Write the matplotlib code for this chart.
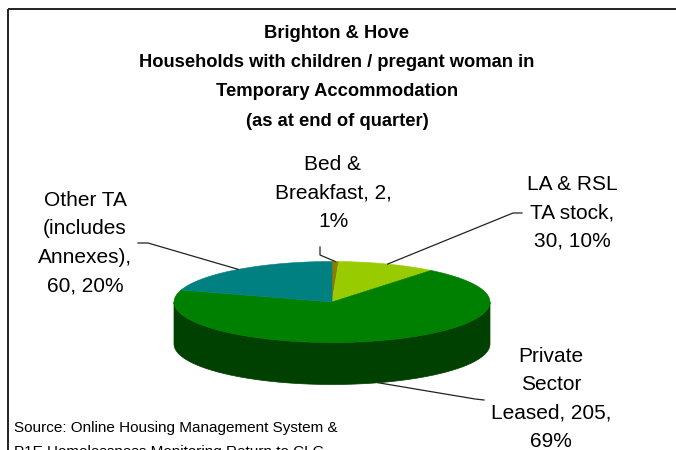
import textwrap
import numpy as np
import matplotlib.pyplot as plt
from matplotlib.patches import Polygon, Rectangle

plt.rcParams['font.family'] = ['Liberation Sans', 'DejaVu Sans']

# data
categories = ['Bed & Breakfast', 'LA & RSL TA stock', 'Private Sector Leased',
              'Other TA (includes Annexes)']
values = [2, 30, 205, 60]
wrap_widths = [13, 9, 12, 10]
colors = ['#8a7d00', '#99cc00', '#008000', '#008080']
side_colors = ['#453e00', '#4c6600', '#004000', '#004040']

title_lines = ['Brighton & Hove',
               'Households with children / pregant woman in',
               'Temporary Accommodation',
               '(as at end of quarter)']
source_lines = ['Source: Online Housing Management System &',
                'P1E Homelessness Monitoring Return to CLG']

# layout (pixel coordinates, y down)
CX, CY = 332, 302
RX, RY = 158, 40.5
DEPTH = 42
label_xy = [(333, 193), (572, 213), (551, 399), (85, 243)]
leader_start = [(320, 247), (522, 213), (484, 400), (138, 243)]
leader_elbow = [(320, 255), (513, 213), (475, 399), (148, 243)]

fig = plt.figure(figsize=(6.76, 4.5), dpi=100)
ax = fig.add_axes([0, 0, 1, 1])
ax.set_xlim(0, 676)
ax.set_ylim(450, 0)
ax.axis('off')


def rim(c_deg, drop=0.0):
    c = np.radians(c_deg)
    return CX + RX * np.sin(c), CY - RY * np.cos(c) + drop


total = sum(values)
bounds = np.concatenate([[0], np.cumsum(values) / total * 360])

# side walls (front half only: 90..270 deg clockwise from top)
for i in range(len(values)):
    lo, hi = max(bounds[i], 90), min(bounds[i + 1], 270)
    if hi <= lo:
        continue
    cs = np.linspace(lo, hi, 120)
    top = np.column_stack(rim(cs))
    bot = np.column_stack(rim(cs[::-1], DEPTH))
    ax.add_patch(Polygon(np.vstack([top, bot]), closed=True,
                         facecolor=side_colors[i], edgecolor=side_colors[i],
                         lw=0.5, zorder=2))

# top faces
for i in range(len(values)):
    cs = np.linspace(bounds[i], bounds[i + 1], 200)
    pts = np.vstack([[CX, CY], np.column_stack(rim(cs))])
    ax.add_patch(Polygon(pts, closed=True, facecolor=colors[i],
                         edgecolor=colors[i], lw=0.4, zorder=3))

# labels and leader lines
for i, (cat, v) in enumerate(zip(categories, values)):
    pct = round(v / total * 100)
    txt = textwrap.fill(f'{cat}, {v}, {pct}%', wrap_widths[i])
    ax.text(*label_xy[i], txt, ha='center', va='center', fontsize=15,
            linespacing=1.63, zorder=5)
    mid = (bounds[i] + bounds[i + 1]) / 2
    drop = DEPTH if 90 < mid < 270 else 0
    px, py = rim(mid, drop)
    xs = [leader_start[i][0], leader_elbow[i][0], px]
    ys = [leader_start[i][1], leader_elbow[i][1], py]
    ax.plot(xs, ys, color='#222222', lw=0.9, zorder=4)

for k, line in enumerate(title_lines):
    ax.text(337, 33 + 29.5 * k, line, ha='center', va='center',
            fontsize=13.2, fontweight='bold')

for k, line in enumerate(source_lines):
    ax.text(14, 432 + 24 * k, line, ha='left', va='baseline', fontsize=11)

ax.add_patch(Rectangle((7.5, 8.5), 700, 480, fill=False, lw=1.4,
                       edgecolor='#222222', clip_on=False, zorder=6))

fig.savefig('out.png', dpi=100)
